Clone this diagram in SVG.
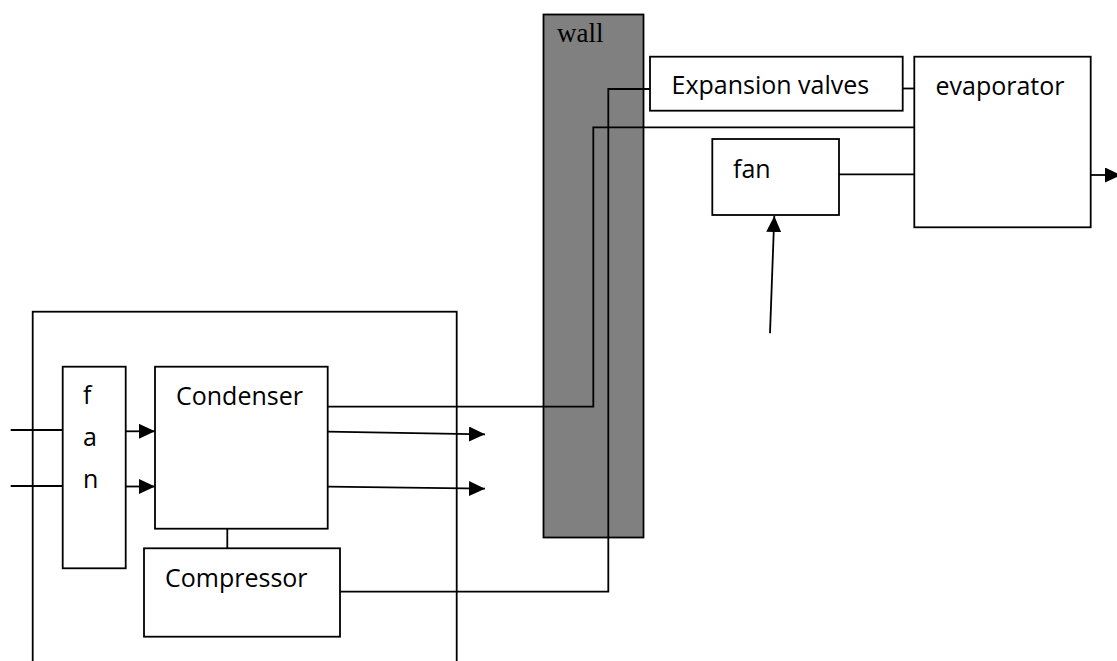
<svg xmlns="http://www.w3.org/2000/svg" width="1117" height="661" viewBox="0 0 1117 661">
<defs>
<style>
.box{fill:#fff;stroke:#000;stroke-width:1.8}
.ln{fill:none;stroke:#000;stroke-width:1.8}
.t{font-family:"Open Sans","Noto Sans",sans-serif;font-size:25px;fill:#000}
</style>
<marker id="ah" markerUnits="userSpaceOnUse" markerWidth="16" markerHeight="16" refX="16" refY="7.5" orient="auto">
<path d="M0,0 L16,7.5 L0,15 Z" fill="#000"/>
</marker>
</defs>
<rect width="1117" height="661" fill="#fff"/>
<g id="outer-box"><rect x="32.7" y="311.7" width="424" height="360" fill="none" stroke="#000" stroke-width="1.8"/></g>
<g id="wall"><rect x="543.5" y="14.5" width="100" height="523" fill="#808080" stroke="#000" stroke-width="1.8"/><text x="557" y="42.3" font-family="Liberation Serif,serif" font-size="27" fill="#000">wall</text></g>
<g id="expansion-valves"><rect class="box" x="650" y="56.7" width="252.7" height="54"/><text class="t" x="671.5" y="94">Expansion valves</text></g>
<g id="evaporator"><rect class="box" x="914.3" y="56.7" width="176.4" height="170.6"/><text class="t" x="935.5" y="95">evaporator</text></g>
<g id="fan-indoor"><rect class="box" x="712.3" y="139" width="126.7" height="76"/><text class="t" x="733" y="178.3">fan</text></g>
<g id="fan-outdoor"><rect class="box" x="62.7" y="366.7" width="63" height="201.6"/><text class="t" x="83" y="404.3">f</text><text class="t" x="83" y="446">a</text><text class="t" x="83" y="488">n</text></g>
<g id="condenser"><rect class="box" x="155" y="366.7" width="172.7" height="162"/><text class="t" x="176" y="405.3">Condenser</text></g>
<g id="compressor"><rect class="box" x="144" y="548.3" width="196" height="88.4"/><text class="t" x="165" y="586.7">Compressor</text></g>
<g id="connectors">
<path class="ln" d="M902.7,88.5 H914.3"/>
<path class="ln" d="M914.3,127.3 H593.3 V406.7 H327.7"/>
<path class="ln" d="M650,89 H608.3 V591.7 H340"/>
<path class="ln" d="M839,174.3 H914.3"/>
<path class="ln" d="M770,333.3 L774.3,216" marker-end="url(#ah)"/>
<path class="ln" d="M1090.7,175 H1121" marker-end="url(#ah)"/>
<path class="ln" d="M227.3,528.7 V548.3"/>
<path class="ln" d="M10.7,430 H62.7"/>
<path class="ln" d="M10.7,486 H62.7"/>
<path class="ln" d="M125.7,431.3 H155" marker-end="url(#ah)"/>
<path class="ln" d="M125.7,486.5 H155" marker-end="url(#ah)"/>
<path class="ln" d="M327.7,431.7 L485,434.3" marker-end="url(#ah)"/>
<path class="ln" d="M327.7,486.7 L485,488.7" marker-end="url(#ah)"/>
</g>
</svg>
